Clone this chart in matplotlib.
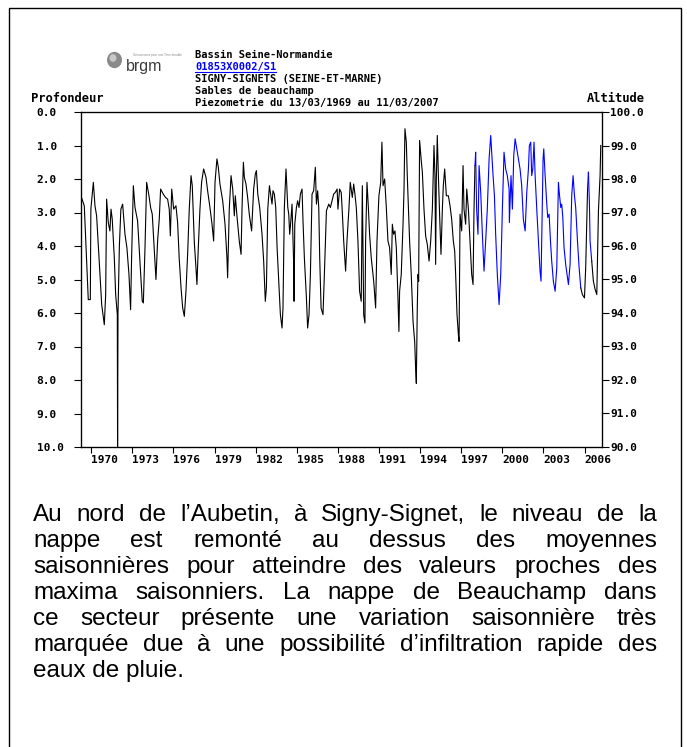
import numpy as np
import matplotlib
matplotlib.use('Agg')
import matplotlib.pyplot as plt
from matplotlib.patches import Rectangle, Circle
from matplotlib.lines import Line2D

W, H = 687, 747

# piezometric record: decimal year / depth below ground (m)
years = [
    1969.24, 1969.49, 1969.78, 1969.93, 1969.97, 1970.15, 1970.27, 1970.39, 1970.56, 1970.76,
    1970.95, 1971.05, 1971.12, 1971.24, 1971.36, 1971.44, 1971.53, 1971.68, 1971.78, 1971.90,
    1971.92, 1971.95, 1972.05, 1972.16, 1972.29, 1972.46, 1972.60, 1972.75, 1972.87, 1972.94,
    1973.07, 1973.19, 1973.38, 1973.55, 1973.72, 1973.80, 1973.92, 1974.04, 1974.21, 1974.33,
    1974.45, 1974.60, 1974.72, 1974.84, 1974.96, 1975.06, 1975.25, 1975.42, 1975.57, 1975.69,
    1975.77, 1975.87, 1976.01, 1976.18, 1976.30, 1976.42, 1976.55, 1976.67, 1976.79, 1976.91,
    1977.03, 1977.15, 1977.28, 1977.37, 1977.52, 1977.64, 1977.71, 1977.81, 1977.93, 1978.05,
    1978.20, 1978.37, 1978.49, 1978.66, 1978.81, 1978.93, 1979.03, 1979.17, 1979.27, 1979.39,
    1979.59, 1979.76, 1979.90, 1979.95, 1980.07, 1980.20, 1980.32, 1980.44, 1980.51, 1980.63,
    1980.80, 1980.93, 1981.00, 1981.10, 1981.17, 1981.29, 1981.41, 1981.53, 1981.70, 1981.85,
    1981.97, 1982.05, 1982.15, 1982.29, 1982.46, 1982.58, 1982.70, 1982.78, 1982.88, 1983.00,
    1983.12, 1983.19, 1983.26, 1983.36, 1983.46, 1983.56, 1983.68, 1983.80, 1983.92, 1983.99,
    1984.09, 1984.21, 1984.34, 1984.41, 1984.48, 1984.58, 1984.65, 1984.72, 1984.77, 1984.80,
    1984.85, 1984.97, 1985.06, 1985.16, 1985.26, 1985.38, 1985.45, 1985.55, 1985.70, 1985.79,
    1985.89, 1985.99, 1986.11, 1986.23, 1986.35, 1986.43, 1986.52, 1986.60, 1986.67, 1986.77,
    1986.91, 1987.01, 1987.16, 1987.33, 1987.45, 1987.57, 1987.69, 1987.81, 1987.94, 1988.00,
    1988.12, 1988.24, 1988.32, 1988.42, 1988.56, 1988.66, 1988.80, 1988.90, 1989.05, 1989.15,
    1989.24, 1989.34, 1989.46, 1989.58, 1989.70, 1989.78, 1989.88, 1989.97, 1990.02, 1990.12,
    1990.22, 1990.31, 1990.43, 1990.61, 1990.75, 1990.85, 1990.99, 1991.12, 1991.21, 1991.29,
    1991.41, 1991.53, 1991.65, 1991.77, 1991.89, 1991.97, 1992.06, 1992.16, 1992.26, 1992.38,
    1992.45, 1992.50, 1992.62, 1992.75, 1992.82, 1992.89, 1992.99, 1993.06, 1993.14, 1993.23,
    1993.35, 1993.48, 1993.60, 1993.67, 1993.72, 1993.79, 1993.84, 1993.89, 1993.96, 1994.08,
    1994.16, 1994.28, 1994.40, 1994.52, 1994.65, 1994.77, 1994.89, 1995.01, 1995.08, 1995.13,
    1995.18, 1995.25, 1995.33, 1995.43, 1995.52, 1995.62, 1995.69, 1995.79, 1995.91, 1996.06,
    1996.18, 1996.30, 1996.42, 1996.52, 1996.59, 1996.69, 1996.79, 1996.84, 1996.91, 1997.03,
    1997.13, 1997.20, 1997.32, 1997.40, 1997.52, 1997.61, 1997.76, 1997.86, 1997.93, 1998.00,
    1998.05, 1998.12, 1998.22, 1998.30, 1998.42, 1998.54, 1998.66, 1998.78, 1998.90, 1999.03,
    1999.15, 1999.22, 1999.32, 1999.42, 1999.51, 1999.63, 1999.76, 1999.88, 2000.00, 2000.12,
    2000.24, 2000.36, 2000.49, 2000.51, 2000.63, 2000.73, 2000.83, 2000.93, 2001.05, 2001.17,
    2001.29, 2001.41, 2001.53, 2001.66, 2001.78, 2001.90, 2001.97, 2002.07, 2002.14, 2002.22,
    2002.31, 2002.39, 2002.51, 2002.63, 2002.75, 2002.82, 2002.87, 2002.97, 2003.02, 2003.12,
    2003.24, 2003.31, 2003.41, 2003.51, 2003.60, 2003.72, 2003.85, 2003.97, 2004.09, 2004.16,
    2004.26, 2004.33, 2004.41, 2004.50, 2004.62, 2004.72, 2004.82, 2004.94, 2005.06, 2005.16,
    2005.26, 2005.35, 2005.48, 2005.60, 2005.72, 2005.84, 2005.99, 2006.08, 2006.21, 2006.28,
    2006.35, 2006.40, 2006.52, 2006.64, 2006.77, 2006.89, 2007.01, 2007.13, 2007.18,
]
depth = [
    2.5, 2.8, 5.6, 5.6, 2.9, 2.1, 2.8, 3.1, 4.3, 5.75,
    6.35, 5.45, 2.6, 3.3, 3.55, 2.9, 3.2, 4.35, 5.45, 6.05,
    10.0, 6.0, 4.0, 2.9, 2.75, 3.65, 4.05, 4.85, 5.9, 4.4,
    2.2, 2.85, 3.25, 4.45, 5.65, 5.7, 4.05, 2.1, 2.5, 2.85,
    3.05, 4.15, 5.0, 3.85, 3.2, 2.3, 2.45, 2.55, 2.6, 2.9,
    3.7, 2.3, 2.9, 2.8, 3.3, 4.4, 5.25, 5.85, 6.1, 5.35,
    4.25, 2.9, 1.9, 2.2, 3.9, 4.65, 5.15, 4.05, 2.9, 2.1,
    1.7, 1.95, 2.35, 2.85, 3.35, 3.85, 2.1, 1.4, 1.65, 2.15,
    2.65, 3.35, 4.35, 4.95, 2.9, 1.9, 2.3, 3.1, 2.5, 3.1,
    3.85, 4.25, 2.9, 1.5, 1.95, 2.15, 2.55, 3.05, 3.55, 2.3,
    1.85, 1.75, 2.45, 2.85, 3.65, 4.45, 5.65, 5.25, 2.9, 2.2,
    2.55, 2.75, 2.35, 2.45, 2.85, 4.05, 5.05, 6.05, 6.45, 5.85,
    2.85, 1.7, 2.85, 3.05, 3.65, 3.15, 2.75, 3.85, 4.55, 5.65,
    3.35, 2.85, 2.65, 2.85, 2.45, 2.3, 3.25, 4.35, 5.55, 6.45,
    6.05, 4.85, 2.45, 2.35, 1.65, 2.75, 2.35, 2.85, 4.35, 5.85,
    6.05, 4.85, 2.95, 2.75, 2.85, 2.65, 2.45, 2.4, 2.3, 2.9,
    2.3, 2.4, 3.0, 3.85, 4.75, 3.85, 2.9, 2.1, 2.55, 2.15,
    2.45, 2.85, 3.85, 5.35, 5.65, 2.2, 6.05, 6.3, 3.85, 2.1,
    2.85, 3.65, 4.35, 5.05, 5.85, 3.85, 2.5, 2.1, 0.9, 2.2,
    2.0, 2.85, 3.85, 4.05, 4.85, 3.35, 3.65, 3.55, 4.05, 5.55,
    6.55, 5.35, 4.85, 3.35, 2.35, 0.5, 0.9, 1.9, 2.85, 3.85,
    4.85, 6.25, 6.85, 7.65, 8.1, 5.85, 4.85, 5.05, 0.85, 1.45,
    1.8, 2.9, 3.7, 3.95, 4.45, 3.85, 2.9, 1.0, 1.9, 4.55,
    2.0, 0.7, 1.9, 3.2, 4.25, 2.9, 2.2, 1.7, 2.5, 2.5,
    2.8, 3.2, 3.85, 4.15, 4.85, 6.05, 6.65, 6.85, 3.05, 3.55,
    1.6, 2.9, 3.35, 2.3, 2.9, 3.65, 4.85, 5.15, 2.9, 1.6,
    1.2, 2.9, 3.65, 1.6, 2.4, 3.65, 4.75, 3.85, 2.9, 1.4,
    0.7, 1.2, 1.9, 2.5, 3.65, 4.85, 5.75, 4.85, 2.9, 1.2,
    1.7, 1.9, 2.3, 3.3, 1.9, 2.9, 1.3, 0.8, 1.1, 1.4,
    1.7, 2.2, 3.2, 3.55, 2.4, 1.7, 1.0, 0.9, 1.9, 1.7,
    0.9, 1.9, 2.9, 3.85, 4.75, 5.05, 3.85, 1.4, 1.1, 1.9,
    2.75, 3.15, 3.05, 3.85, 4.45, 5.05, 5.35, 4.65, 2.1, 2.45,
    2.85, 2.75, 3.15, 4.05, 4.55, 4.85, 5.15, 4.55, 2.5, 1.9,
    2.5, 2.85, 3.85, 4.65, 5.25, 5.45, 5.55, 4.65, 2.4, 1.8,
    2.7, 3.85, 4.45, 5.05, 5.3, 5.45, 2.95, 1.9, 1.0,
]
ground_alt = 100.0
blue_spans = [(1997.98, 2005.68), (2006.22, 2006.45)]

year_ticks = list(range(1970, 2007, 3))
depth_ticks = list(range(0, 11))
alt_ticks = list(range(90, 101))

header = [
    'Bassin Seine-Normandie',
    '01853X0002/S1',
    'SIGNY-SIGNETS (SEINE-ET-MARNE)',
    'Sables de beauchamp',
    'Piezometrie du 13/03/1969 au 11/03/2007',
]
para = [
    'Au nord de l\u2019Aubetin, \u00e0 Signy-Signet, le niveau de la',
    'nappe est remont\u00e9 au dessus des moyennes',
    'saisonni\u00e8res pour atteindre des valeurs proches des',
    'maxima saisonniers. La nappe de Beauchamp dans',
    'ce secteur pr\u00e9sente une variation saisonni\u00e8re tr\u00e8s',
    'marqu\u00e9e due \u00e0 une possibilit\u00e9 d\u2019infiltration rapide des',
    'eaux de pluie.',
]


def fx(x):
    return x / W


def fy(y):
    return 1 - y / H


mono = dict(family='DejaVu Sans Mono', fontweight='bold', fontsize=8)
mono_h = dict(mono, fontsize=8.7)
mono_t = dict(mono, fontsize=7.5)

fig = plt.figure(figsize=(W / 100, H / 100), dpi=100)
fig.patch.set_facecolor('white')

# outer frame
fig.patches.append(Rectangle((fx(9), fy(760)), fx(681) - fx(9), fy(8) - fy(760),
                             transform=fig.transFigure, fill=False,
                             edgecolor='black', linewidth=1.0))

ax = fig.add_axes([fx(81), fy(447), fx(602) - fx(81), fy(112) - fy(447)])
yrs = np.array(years)
dep = np.array(depth)
isblue = np.zeros(len(yrs), dtype=bool)
for a, b in blue_spans:
    isblue |= (yrs >= a) & (yrs <= b)

start = 0
for i in range(1, len(yrs) + 1):
    if i == len(yrs) or isblue[i] != isblue[start]:
        seg = slice(start, min(i + 1, len(yrs)))
        ax.plot(yrs[seg], dep[seg], color='#0000ff' if isblue[start] else 'black',
                linewidth=0.8)
        start = i

ax.set_xlim(1969.25, 2007.27)
ax.set_ylim(10, 0)
ax.set_xticks(year_ticks)
ax.set_xticklabels([str(y) for y in year_ticks], **mono)
for lab in ax.get_xticklabels():
    lab.set_horizontalalignment('left')
ax.set_yticks(depth_ticks)
ax.set_yticklabels(['%.1f' % d for d in depth_ticks], **mono)
for lab in ax.get_yticklabels():
    lab.set_horizontalalignment('left')
ax.tick_params(axis='x', direction='out', length=4, width=0.8, pad=2)
ax.tick_params(axis='y', direction='out', length=5, width=0.8, pad=27)
for sp in ax.spines.values():
    sp.set_linewidth(0.9)

ax2 = ax.twinx()
ax2.set_ylim(ground_alt - 10, ground_alt)
ax2.set_yticks(alt_ticks)
ax2.set_yticklabels(['%.1f' % a for a in alt_ticks], **mono)
ax2.tick_params(axis='y', direction='out', length=5, width=0.8, pad=1)

fig.text(fx(31), fy(99), 'Profondeur', va='center', ha='left', **mono_h)
fig.text(fx(587), fy(99), 'Altitude', va='center', ha='left', **mono_h)

# header block (tight stack as on the original)
head_y = [55, 67, 79, 91, 103]
head_col = ['black', '#0000ff', 'black', 'black', 'black']
fig.canvas.draw()
renderer = fig.canvas.get_renderer()
for txt, y, c in zip(header, head_y, head_col):
    t = fig.text(fx(195), fy(y), txt, va='center', ha='left', color=c, **mono_t)
    if c != 'black':
        bb = t.get_window_extent(renderer)
        fig.lines.append(Line2D([bb.x0 / W, bb.x1 / W], [fy(y + 5)] * 2,
                                transform=fig.transFigure, color=c, linewidth=0.8))

# brgm logo
fig.patches.append(Circle((fx(114.5), fy(60)), 7.5 / W, transform=fig.transFigure,
                          facecolor='#8a8a8a', edgecolor='none'))
fig.patches.append(Circle((fx(113), fy(58)), 3.5 / W, transform=fig.transFigure,
                          facecolor='#c8c8c8', edgecolor='none'))
fig.text(fx(126), fy(66), 'brgm', family='Liberation Sans', fontsize=11.5,
         color='#3a3a3a', va='center', ha='left')
fig.text(fx(133), fy(55), 'G\u00e9osciences pour une Terre durable',
         family='Liberation Sans', fontsize=2.2, color='#888888',
         va='center', ha='left')

# justified paragraph
fs = 17.5
x_left, x_right = 33, 657
base0, step = 521, 26
for k, line in enumerate(para):
    yb = fy(base0 + step * k)
    if k == len(para) - 1:
        fig.text(fx(x_left), yb, line, family='Liberation Sans', fontsize=fs,
                 va='baseline', ha='left')
        continue
    words = line.split(' ')
    objs = [fig.text(0, yb, w, family='Liberation Sans', fontsize=fs,
                     va='baseline', ha='left') for w in words]
    widths = [o.get_window_extent(renderer).width for o in objs]
    gap = (x_right - x_left - sum(widths)) / (len(words) - 1)
    x = x_left
    for o, wd in zip(objs, widths):
        o.set_x(fx(x))
        x += wd + gap

fig.savefig('out.png', dpi=100, facecolor='white')
